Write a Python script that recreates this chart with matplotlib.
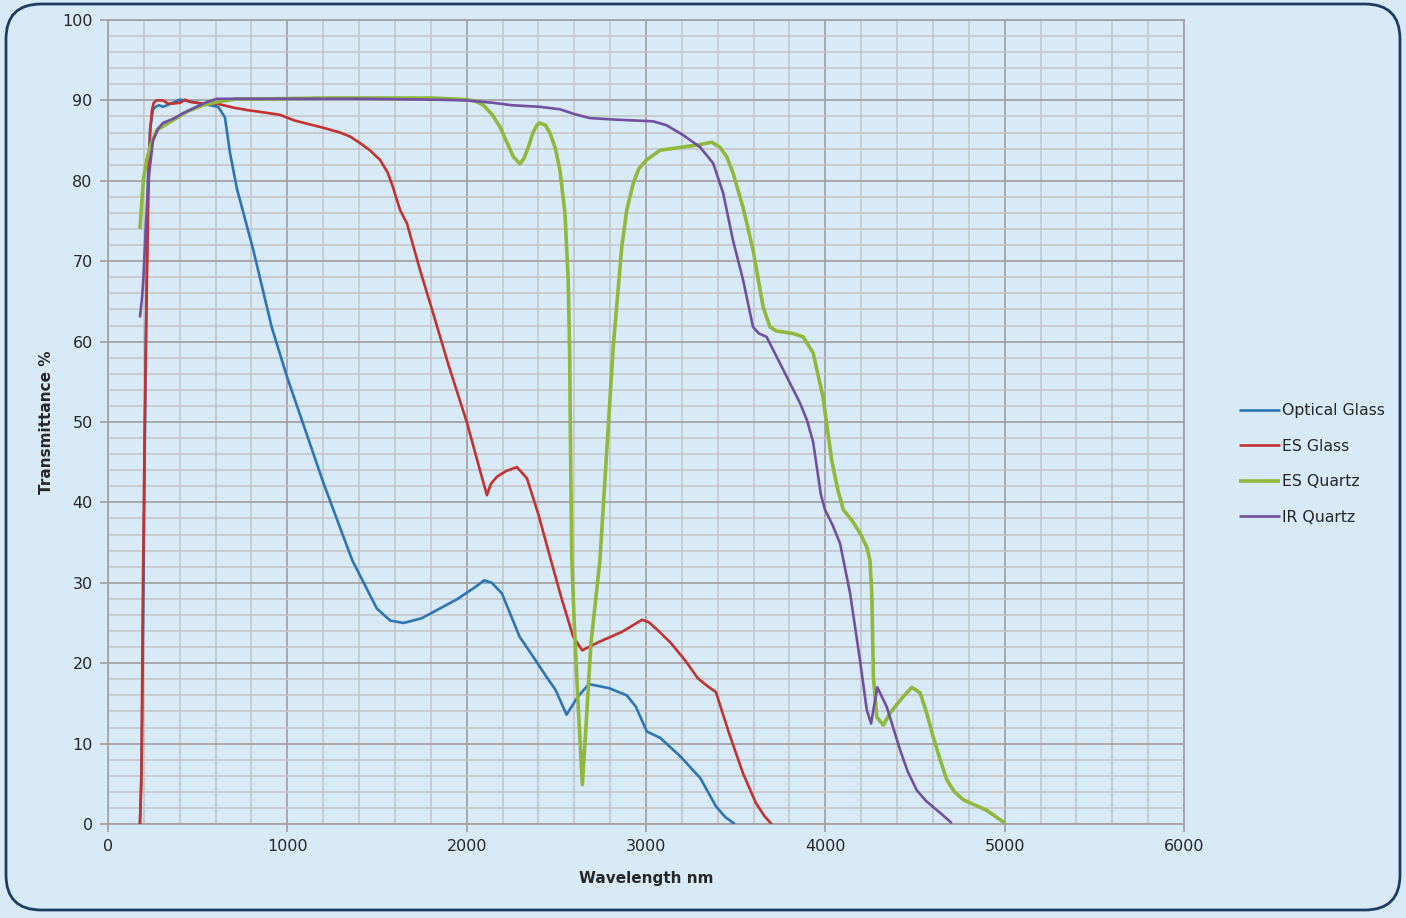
import matplotlib
matplotlib.use('Agg')
import matplotlib.pyplot as plt
from matplotlib.patches import FancyBboxPatch
from matplotlib.ticker import MultipleLocator

# wavelength (nm) / transmittance (%)
optical_x = [178, 188, 198, 210, 222, 235, 250, 265, 285, 307, 350, 400, 474, 569, 614, 652,
             680, 719, 809, 914, 1000, 1100, 1200, 1300, 1362, 1449, 1499, 1574, 1648, 1750,
             1850, 1950, 1996, 2050, 2097, 2140, 2196, 2295, 2380, 2445, 2495, 2557, 2619,
             2681, 2793, 2893, 2943, 3005, 3080, 3192, 3303, 3390, 3440, 3495]
optical_y = [0, 8, 30, 58, 80, 86.5, 88.8, 89.2, 89.4, 89.2, 89.6, 90.1, 89.8, 89.4, 89.2, 87.9,
             83.5, 79, 71.5, 61.7, 55.5, 49, 42.5, 36.5, 32.8, 29.0, 26.8, 25.3, 25.0, 25.6,
             26.8, 28.0, 28.7, 29.5, 30.3, 30.0, 28.7, 23.3, 20.5, 18.3, 16.7, 13.6, 15.8,
             17.4, 16.9, 16.0, 14.6, 11.5, 10.7, 8.4, 5.7, 2.2, 0.9, 0]

es_glass_x = [178, 186, 195, 205, 215, 225, 235, 245, 255, 270, 307, 335, 362, 400, 430, 460,
              496, 550, 607, 700, 775, 870, 959, 1040, 1110, 1200, 1294, 1350, 1405, 1460,
              1517, 1560, 1589, 1628, 1667, 1740, 1812, 1900, 2002, 2074, 2113, 2135, 2169,
              2220, 2280, 2336, 2400, 2470, 2530, 2594, 2644, 2743, 2866, 2978, 3016, 3080,
              3139, 3220, 3290, 3340, 3390, 3463, 3541, 3613, 3660, 3700]
es_glass_y = [0, 5, 30, 50, 65, 78, 86, 88.8, 89.7, 90, 90, 89.6, 89.6, 89.7, 90.1, 89.8,
              89.7, 89.5, 89.6, 89.1, 88.8, 88.5, 88.2, 87.5, 87.1, 86.6, 86, 85.5, 84.7, 83.8,
              82.6, 81, 79.2, 76.4, 74.7, 68.9, 63.6, 57, 49.9, 44.0, 40.9, 42.3, 43.2,
              43.9, 44.4, 43.0, 38.5, 32.8, 28, 23.3, 21.6, 22.7, 23.9, 25.4, 25.1, 23.8,
              22.5, 20.3, 18.1, 17.2, 16.4, 11.3, 6.3, 2.6, 1.0, 0]

es_quartz_x = [178, 197, 215, 234, 272, 345, 440, 530, 607, 719, 900, 1200, 1500, 1800, 2000,
               2050, 2093, 2140, 2186, 2230, 2260, 2297, 2320, 2344, 2370, 2391, 2408, 2440,
               2465, 2495, 2520, 2548, 2566, 2574, 2580, 2586, 2600, 2620, 2645, 2671, 2693,
               2720, 2743, 2771, 2817, 2865, 2893, 2929, 2960, 3003, 3078, 3206, 3301, 3366,
               3411, 3450, 3485, 3541, 3597, 3653, 3692, 3730, 3764, 3820, 3876, 3932, 3987,
               4035, 4070, 4100, 4150, 4193, 4230, 4249, 4259, 4268, 4287, 4323, 4361, 4417,
               4482, 4529, 4565, 4602, 4640, 4677, 4720, 4770, 4900, 5002]
es_quartz_y = [74, 80.1, 82.5, 84.2, 86.3, 87.3, 88.6, 89.4, 89.8, 90.2, 90.2, 90.3, 90.3, 90.3,
               90.1, 89.9, 89.4, 88.3, 86.7, 84.5, 83, 82.1, 82.8, 84.2, 86, 86.9, 87.2, 86.9,
               85.9, 84, 81.3, 76, 67.7, 59, 45, 33, 25, 15.5, 4.9, 14.2, 22.5,
               28, 32.8, 42.8, 59.3, 71.8, 76.4, 79.7, 81.5, 82.6, 83.8, 84.2, 84.5, 84.8,
               84.2, 83, 81, 76.7, 71.4, 64.3, 61.8, 61.3, 61.2, 61, 60.6, 58.6, 53.1,
               45.3, 41.5, 39.1, 37.7, 36.2, 34.5, 32.8, 28.7, 18.3, 13.3, 12.3, 13.8, 15.4,
               17.0, 16.3, 13.8, 10.8, 8, 5.5, 4, 3.0, 1.7, 0.1]

ir_quartz_x = [178, 190, 197, 210, 225, 251, 280, 307, 362, 418, 474, 551, 607, 700, 1000, 1400,
               1800, 2000, 2148, 2250, 2408, 2520, 2600, 2688, 2838, 3040, 3115, 3206, 3301,
               3374, 3430, 3485, 3541, 3597, 3630, 3672, 3747, 3858, 3898, 3932, 3955, 3975,
               3998, 4040, 4082, 4138, 4193, 4231, 4255, 4268, 4290, 4342, 4417, 4460, 4510,
               4560, 4602, 4650, 4705]
ir_quartz_y = [63, 65.5, 67.7, 74, 80.1, 85, 86.5, 87.2, 87.7, 88.4, 89, 89.8, 90.2, 90.2, 90.2,
               90.2, 90.1, 90.0, 89.7, 89.4, 89.2, 88.9, 88.3, 87.8, 87.6, 87.4, 86.9, 85.7, 84.2,
               82.2, 78.5, 72.6, 67.7, 61.8, 61.0, 60.6, 57.3, 52.4, 50.2, 47.5, 44, 41,
               39.1, 37.2, 34.9, 28.7, 20.4, 14.2, 12.5, 14.2, 17.0, 14.6, 9.2, 6.5, 4.2,
               2.9, 2.1, 1.2, 0.1]

series = [('Optical Glass', optical_x, optical_y, '#2e75b6', 1.9),
          ('ES Glass', es_glass_x, es_glass_y, '#c3322e', 1.9),
          ('ES Quartz', es_quartz_x, es_quartz_y, '#8fb83c', 2.6),
          ('IR Quartz', ir_quartz_x, ir_quartz_y, '#7150a0', 1.9)]

bg = '#d8eaf7'
fig = plt.figure(figsize=(14.06, 9.18), dpi=100, facecolor=bg)

# rounded frame round the whole chart
frame = FancyBboxPatch((6 / 1406, 8 / 918), 1394 / 1406, 906 / 918,
                       boxstyle='round,pad=0,rounding_size=0.025',
                       transform=fig.transFigure, facecolor='none',
                       edgecolor='#1d3c62', lw=2.0, mutation_aspect=1406 / 918)
fig.patches.append(frame)

ax = fig.add_axes([108 / 1406, 94 / 918, 1076 / 1406, 804 / 918])
ax.set_facecolor('none')
ax.set_xlim(0, 6000)
ax.set_ylim(0, 100)

ax.xaxis.set_major_locator(MultipleLocator(1000))
ax.xaxis.set_minor_locator(MultipleLocator(200))
ax.yaxis.set_major_locator(MultipleLocator(10))
ax.yaxis.set_minor_locator(MultipleLocator(2))
ax.grid(which='minor', color='#c2c4c6', lw=1.1, zorder=0)
ax.grid(which='major', color='#a2a3a5', lw=1.3, zorder=0)
ax.set_axisbelow(True)
for s in ax.spines.values():
    s.set_color('#a2a3a5')
    s.set_linewidth(1.3)

ax.tick_params(which='major', length=6, width=1.3, color='#a2a3a5',
               labelsize=11.5, labelcolor='#262626', pad=5)
ax.tick_params(which='minor', length=0)

for name, x, y, col, lw in series:
    ax.plot(x, y, color=col, lw=lw, label=name, solid_capstyle='butt',
            solid_joinstyle='round', zorder=3)

ax.set_xlabel('Wavelength nm', fontsize=11, fontweight='bold', color='#262626', labelpad=12)
ax.set_ylabel('Transmittance %', fontsize=11, fontweight='bold', color='#262626', labelpad=6)

leg = fig.legend(loc='center left', bbox_to_anchor=(1225 / 1406, 1 - 464 / 918),
                 frameon=False, fontsize=11.3, handlelength=2.6, handletextpad=0.15,
                 labelspacing=1.3)
for t in leg.get_texts():
    t.set_color('#262626')

fig.savefig('out.png', dpi=100, facecolor=bg)
